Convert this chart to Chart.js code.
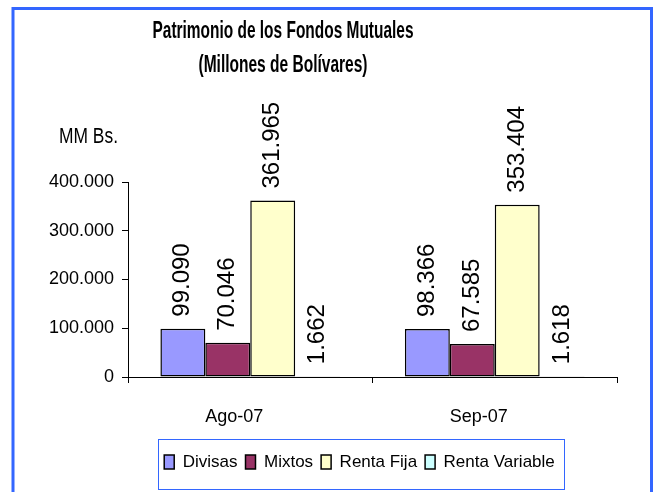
<!DOCTYPE html>
<html>
<head>
  <meta charset="UTF-8">
  <title>Patrimonio de los Fondos Mutuales</title>
  <script src="https://cdn.jsdelivr.net/npm/chart.js"></script>
  <style>
    html, body { margin: 0; padding: 0; background: #fff; }
    #wrap { position: absolute; left: 0; top: 0; width: 657px; height: 492px; }
  </style>
</head>
<body>
  <div id="wrap"><canvas id="fondosChart"></canvas></div>

  <script>
    // Data (MM Bs.)
    const meses = ['Ago-07', 'Sep-07'];
    const divisas = [99090, 98366];
    const mixtos = [70046, 67585];
    const rentaFija = [361965, 353404];
    const rentaVariable = [1662, 1618];
    const tituloLineas = ['Patrimonio de los Fondos Mutuales', '(Millones de Bolívares)'];
    const unidad = 'MM Bs.';

    const SANS = "'Liberation Sans', Arial, sans-serif";

    function miles(v) {
      return String(v).replace(/\B(?=(\d{3})+(?!\d))/g, '.');
    }

    // draws text squeezed to a given width (the original uses a narrow face)
    function narrowText(ctx, text, x, y, width) {
      const w = ctx.measureText(text).width;
      ctx.save();
      ctx.translate(x, y);
      ctx.scale(width / w, 1);
      ctx.fillText(text, 0, 0);
      ctx.restore();
    }

    // frame, title, unit label, legend border
    const framePlugin = {
      id: 'frame',
      beforeDraw(chart) {
        const ctx = chart.ctx;
        ctx.save();
        ctx.strokeStyle = '#3366ff';
        ctx.lineWidth = 3;
        ctx.strokeRect(13, 8.5, 638.5, 500);
        ctx.restore();
      },
      afterDraw(chart) {
        const ctx = chart.ctx;
        ctx.save();
        ctx.fillStyle = '#000';
        ctx.textAlign = 'center';
        ctx.textBaseline = 'middle';
        ctx.font = 'bold 23px ' + SANS;
        narrowText(ctx, tituloLineas[0], 283, 32, 261);
        narrowText(ctx, tituloLineas[1], 283, 66, 169);
        ctx.font = '22px ' + SANS;
        narrowText(ctx, unidad, 88.5, 137, 59);

        const hb = chart.legend.legendHitBoxes;
        if (hb && hb.length) {
          const l = Math.min(...hb.map(h => h.left)) - 6;
          const r = Math.max(...hb.map(h => h.left + h.width)) + 9;
          const cy = hb[0].top + hb[0].height / 2;
          ctx.strokeStyle = '#3366ff';
          ctx.lineWidth = 1;
          ctx.strokeRect(Math.round(l) + 0.5, Math.round(cy - 23) + 0.5, Math.round(r - l), 50);
        }
        ctx.restore();
      },
      afterLayout(chart) {
        const L = chart.legend;
        L.left = chart.chartArea.left - 13;
        L.right = chart.chartArea.right - 13;
      }
    };

    // rotated value labels above the bars
    const valuePlugin = {
      id: 'values',
      afterDatasetsDraw(chart) {
        const ctx = chart.ctx;
        ctx.save();
        ctx.fillStyle = '#000';
        ctx.font = '24px ' + SANS;
        ctx.textAlign = 'left';
        ctx.textBaseline = 'middle';
        chart.data.datasets.forEach((ds, i) => {
          chart.getDatasetMeta(i).data.forEach((bar, j) => {
            ctx.save();
            ctx.translate(bar.x, bar.y - 12);
            ctx.rotate(-Math.PI / 2);
            ctx.fillText(miles(ds.data[j]), 0, 0);
            ctx.restore();
          });
        });
        ctx.restore();
      }
    };

    const ctx = document.getElementById('fondosChart').getContext('2d');
    new Chart(ctx, {
      type: 'bar',
      data: {
        labels: meses,
        datasets: [
          { label: 'Divisas', data: divisas, backgroundColor: '#9999ff' },
          { label: 'Mixtos', data: mixtos, backgroundColor: '#993366' },
          { label: 'Renta Fija', data: rentaFija, backgroundColor: '#ffffcc' },
          { label: 'Renta Variable', data: rentaVariable, backgroundColor: '#ccffff' }
        ]
      },
      options: {
        responsive: true,
        maintainAspectRatio: false,
        animation: false,
        datasets: {
          bar: {
            borderColor: '#000',
            borderWidth: 1.5,
            borderSkipped: false,
            categoryPercentage: 0.735,
            barPercentage: 1
          }
        },
        layout: { padding: { left: 0, right: 40, top: 182, bottom: 11.5 } },
        plugins: {
          title: { display: false },
          tooltip: { enabled: false },
          legend: {
            position: 'bottom',
            fullSize: false,
            labels: {
              color: '#000',
              font: { family: SANS, size: 17 },
              boxWidth: 10,
              boxHeight: 14,
              padding: 8
            }
          }
        },
        scales: {
          x: {
            afterFit(s) { s.height = 68.5; },
            grid: { display: true, offset: true, drawOnChartArea: false, tickLength: 6, color: '#000' },
            border: { color: '#000', width: 1 },
            ticks: { color: '#000', font: { family: SANS, size: 18 }, padding: 23, labelOffset: -16 }
          },
          y: {
            min: 0,
            max: 400000,
            afterFit(s) { s.width = 128; },
            grid: { drawOnChartArea: false, tickLength: 6, color: '#000' },
            border: { color: '#000', width: 1 },
            ticks: {
              stepSize: 100000,
              color: '#000',
              font: { family: SANS, size: 18 },
              padding: 8,
              callback: v => miles(v)
            }
          }
        }
      },
      plugins: [framePlugin, valuePlugin]
    });
  </script>
</body>
</html>
